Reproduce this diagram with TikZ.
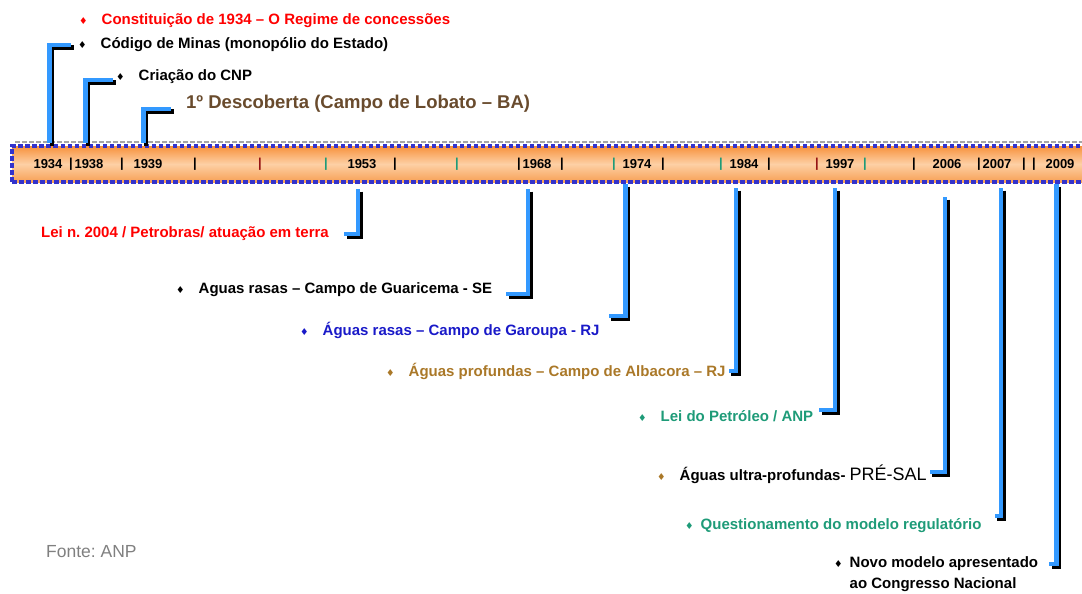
\documentclass[tikz,border=0pt]{standalone}
\usepackage{fontspec}
\setmainfont{Liberation Sans}
\newfontfamily\symfont{DejaVu Sans}
\usetikzlibrary{positioning}

\definecolor{brkblue}{RGB}{51,153,255}
\definecolor{barblue}{RGB}{51,51,204}
\definecolor{barorange}{RGB}{247,145,60}
\definecolor{barlight}{RGB}{253,208,165}
\definecolor{barorange2}{RGB}{247,160,85}
\definecolor{descbrown}{RGB}{105,75,45}
\definecolor{albgold}{RGB}{170,120,40}
\definecolor{garblue}{RGB}{25,25,200}
\definecolor{leiteal}{RGB}{30,155,120}
\definecolor{darkred}{RGB}{150,20,20}

\newcommand\itemdot[2][14pt]{{\symfont\fontsize{9.5}{9.5}\selectfont\color{#2}♦}\hspace{#1}}

\begin{document}
\frenchspacing
\begin{tikzpicture}[
	x=1pt, y=-1pt,
	bar/.style = {draw=barblue, line width=4pt, dash pattern=on 4.5pt off 2.5pt,
		top color=barorange, bottom color=barorange2, middle color=barlight,
		inner sep=0pt, outer sep=0pt},
	yr/.style = {font=\bfseries\fontsize{13}{13}\selectfont, inner sep=0pt},
	txt/.style = {font=\bfseries\fontsize{15}{21}\selectfont, inner sep=0pt, anchor=west, align=left},
	brk/.style = {draw=brkblue, line width=4.5pt,
		preaction={draw=black, line width=4.5pt, transform canvas={shift={(2.5pt,-2.5pt)}}}}
     ]
	\useasboundingbox (0,0) rectangle (1082,594);
%
	\draw[gray!70, line width=2pt, dash pattern=on 4.5pt off 2.5pt] (15,142) -- (1090,142);
	\node[bar, minimum width=1090pt, minimum height=36pt, anchor=north west] (bar) at (12,146) {};
%
	\foreach \x/\t in {48/1934, 89/1938, 148/1939, 362/1953, 537/1968, 637/1974,
		744/1984, 840/1997, 947/2006, 997/2007, 1060/2009}
		\node[yr] (l\t) at (\x,164) {\t};
	\foreach \x/\c in {71/black, 122/black, 195/black, 260/darkred, 326/leiteal, 395/black,
		457/leiteal, 519/black, 562/black, 614/leiteal, 663/black, 721/leiteal, 769/black,
		817/darkred, 865/leiteal, 914/black, 979/black, 1024/black, 1034/black}
		\node[yr, text=\c] (s\x) at (\x,164) {|};
%
	% points on the bar
	\coordinate (y1934) at (49.5,143);
	\coordinate (y1938) at (85.5,143);
	\coordinate (y1939) at (143.5,143);
	\coordinate (y1953) at (358,189);
	\coordinate (y1968) at (528,189);
	\coordinate (y1974) at (625.5,184);
	\coordinate (y1984) at (736,188);
	\coordinate (y1997) at (835,188);
	\coordinate (y2006) at (945,197);
	\coordinate (y2007) at (1001,188);
	\coordinate (y2009) at (1056.5,184);
%
	% above the bar
	\node[txt, text=red] (const) at (79,21) {\itemdot{red}Constituição de 1934 – O Regime de concessões};
	\node[txt] (cod) at (78,45) {\itemdot{black}Código de Minas (monopólio do Estado)};
	\node[txt] (cnp) at (116,77) {\itemdot{black}Criação do CNP};
	\node[txt, text=descbrown, font=\bfseries\fontsize{18.5}{22}\selectfont] (desc) at (186,104)
		{1º Descoberta (Campo de Lobato – BA)};
%
	% below the bar
	\node[txt, text=red] (lei) at (41,234) {Lei n. 2004 / Petrobras/ atuação em terra};
	\node[txt] (guar) at (176,290) {\itemdot{black}Aguas rasas – Campo de Guaricema - SE};
	\node[txt, text=garblue] (garo) at (300,330) {\itemdot{garblue}Águas rasas – Campo de Garoupa - RJ};
	\node[txt, text=albgold] (alba) at (386,371) {\itemdot{albgold}Águas profundas – Campo de Albacora – RJ};
	\node[txt, text=leiteal] (petr) at (638,416) {\itemdot{leiteal}Lei do Petróleo / ANP};
	\node[txt] (pres) at (657,474) {\itemdot{albgold}Águas ultra-profundas-
		{\mdseries\fontsize{18}{20}\selectfont PRÉ-SAL}};
	\node[txt, text=leiteal] (ques) at (685,526) {\itemdot[7pt]{leiteal}Questionamento do modelo regulatório};
	\node[txt] (novo) at (834,574) {\itemdot[7pt]{black}Novo modelo apresentado\\
		\hphantom{\itemdot[7pt]{black}}ao Congresso Nacional};
%
	\node[anchor=west, inner sep=0pt, text=gray, font=\fontsize{17.5}{20}\selectfont] (fonte) at (46,552) {Fonte: ANP};
%
	\draw[brk] (y1934) |- ([xshift=-7pt]cod.west);
	\draw[brk] (y1938) |- ([xshift=-3pt,yshift=-3pt]cnp.west);
	\draw[brk] (y1939) |- ([xshift=-15pt,yshift=-5pt]desc.west);
%
	\draw[brk] (y1953) |- ([xshift=15pt]lei.east);
	\draw[brk] (y1968) |- ([xshift=14pt,yshift=-4pt]guar.east);
	\draw[brk] (y1974) |- ([xshift=9pt,yshift=14pt]garo.east);
	\draw[brk] (y1984) |- ([xshift=3pt]alba.east);
	\draw[brk] (y1997) |- ([xshift=6pt,yshift=6pt]petr.east);
	\draw[brk] (y2006) |- ([xshift=3pt,yshift=2pt]pres.east);
	\draw[brk] (y2007) |- ([xshift=13pt,yshift=10pt]ques.east);
	\draw[brk] (y2009) |- ([xshift=11pt,yshift=10pt]novo.east);
\end{tikzpicture}
\end{document}
